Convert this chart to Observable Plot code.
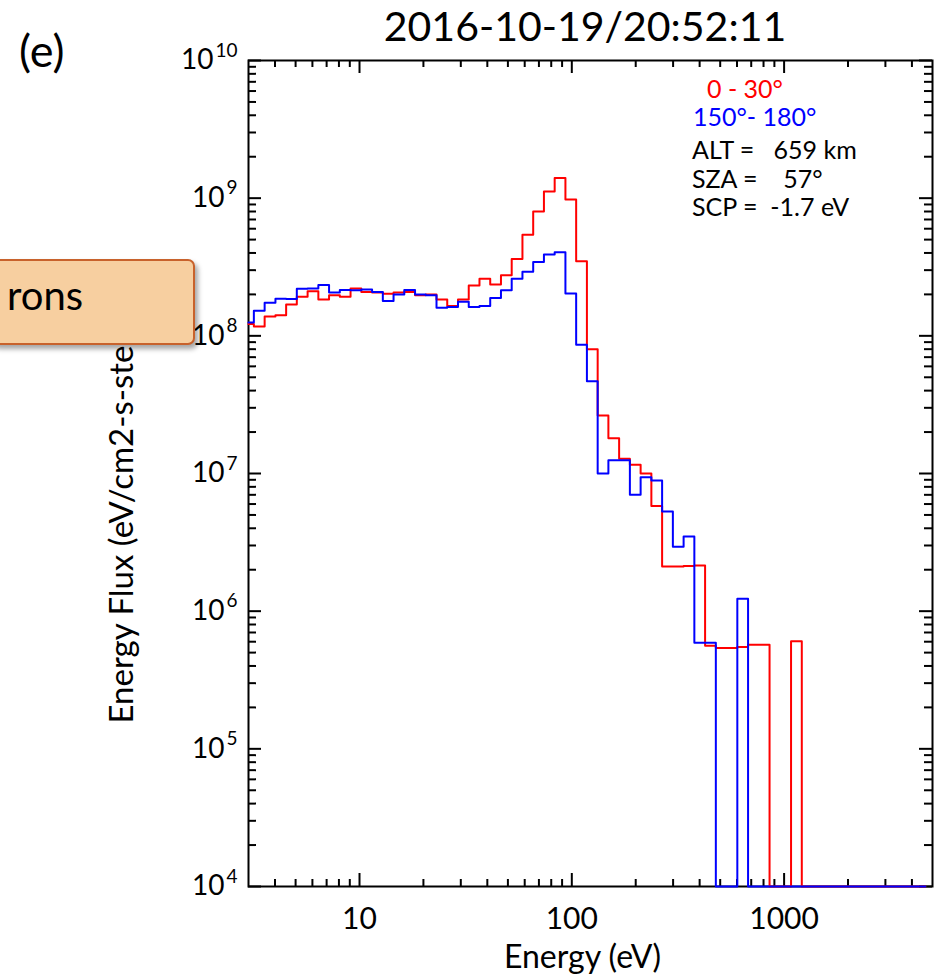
<!DOCTYPE html>
<html><head><meta charset="utf-8">
<script src="https://cdn.jsdelivr.net/npm/d3@7"></script>
<script src="https://cdn.jsdelivr.net/npm/@observablehq/plot@0.6"></script>
<style>
body{margin:0;background:#fff;}
#wrap{position:relative;width:941px;height:977px;overflow:hidden;font-family:Lato,"Open Sans",sans-serif;color:#000;}
.t{position:absolute;white-space:pre;line-height:1;}
#box{position:absolute;left:-10px;top:259px;width:201px;height:82px;background:#f7cfa0;border:2px solid #c8622c;border-radius:7px;box-shadow:3px 4px 5px rgba(0,0,0,0.35);z-index:5;}
#box span{position:absolute;left:15px;top:14px;font-size:40px;line-height:1;}
</style></head><body><div id="wrap"></div>
<script>
// Energy bin centres (eV)
const energyEV = [3.00,3.37,3.79,4.26,4.78,5.37,6.04,6.78,7.62,8.56,9.62,10.81,12.15,13.65,15.33,17.23,19.36,21.75,24.43,27.45,30.85,34.66,38.94,43.75,49.16,55.23,62.06,69.73,78.34,88.02,98.92,111.1,124.9,140.3,157.6,177.1,199.0,223.6,251.2,282.3,317.2,356.4,400.4,449.9,505.5,568.0,638.2,717.0,805.6,905.2,1017,1143,1284,1443,1621,1821,2046,2299,2583,2903,3262,3664,4117,4626];
// Pitch angle 0-30 deg (red)
const flux0to30 = [1.22e8,1.17e8,1.38e8,1.41e8,1.69e8,1.92e8,2.11e8,1.84e8,1.97e8,1.92e8,2.21e8,2.08e8,2.06e8,2.02e8,2.06e8,2.08e8,1.97e8,2.0e8,1.84e8,1.65e8,1.84e8,2.32e8,2.6e8,2.36e8,2.75e8,3.62e8,5.43e8,8.0e8,1.12e9,1.4e9,9.8e8,3.48e8,8.0e7,2.64e7,1.8e7,1.28e7,1.16e7,1.0e7,5.8e6,2.11e6,2.11e6,2.13e6,2.15e6,5.6e5,5.4e5,5.4e5,5.5e5,5.7e5,5.7e5,0,0,6.05e5,0,0,0,0,0,0,0,0,0,0,0,0];
// Pitch angle 150-180 deg (blue)
const flux150to180 = [1.25e8,1.52e8,1.74e8,1.86e8,1.85e8,2.2e8,2.21e8,2.34e8,2.06e8,2.15e8,2.14e8,2.17e8,2.08e8,1.79e8,2.0e8,2.15e8,2.0e8,1.97e8,1.6e8,1.62e8,1.77e8,1.62e8,1.65e8,1.88e8,2.14e8,2.6e8,2.92e8,3.44e8,3.89e8,4.04e8,2.03e8,8.6e7,4.68e7,1.0e7,1.25e7,1.25e7,7.0e6,9.4e6,8.9e6,5.3e6,2.94e6,3.48e6,5.9e5,5.9e5,0,0,1.23e6,0,0,0,0,0,0,0,0,0,0,0,0,0,0,0,0,0];

const xTickValues = [10, 100, 1000];
const yTickValues = [1e4, 1e5, 1e6, 1e7, 1e8, 1e9, 1e10];
const yTickExponents = ["4", "5", "6", "7", "8", "9", "10"];
const xMinorTicks = [4,5,6,7,8,9,20,30,40,50,60,70,80,90,200,300,400,500,600,700,800,900,2000,3000,4000];
const yMinorTicks = [];
for (const d of [1e4,1e5,1e6,1e7,1e8,1e9]) for (const m of [2,3,4,5,6,7,8,9]) yMinorTicks.push(d*m);

const titleText = "2016-10-19/20:52:11";
const panelLabel = "(e)";
const series = [
  {name: "0 - 30°", color: "#ff0000", values: flux0to30},
  {name: "150°- 180°", color: "#0000ff", values: flux150to180}
];
const infoLines = ["ALT =   659 km", "SZA =    57°", "SCP =  -1.7 eV"];
const yMin = 1e4;

const rows = [];
for (const s of series) energyEV.forEach((e, i) => rows.push({series: s.name, energy: e, flux: Math.max(s.values[i], yMin)}));

const W = 941, H = 977, mL = 248, mR = 9, mT = 60, mB = 91;
const fw = W - mL - mR, fh = H - mT - mB;

const chart = Plot.plot({
  width: W, height: H,
  marginLeft: mL, marginRight: mR, marginTop: mT, marginBottom: mB,
  style: {fontFamily: "Lato, 'Open Sans', sans-serif", background: "transparent", color: "#000"},
  x: {type: "log", domain: [3, 5000]},
  y: {type: "log", domain: [yMin, 1e10]},
  marks: [
    // ticks inward, all four sides
    Plot.tickX(xTickValues, {x: d => d, insetTop: fh - 13, stroke: "#000", strokeWidth: 2}),
    Plot.tickX(xTickValues, {x: d => d, insetBottom: fh - 13, stroke: "#000", strokeWidth: 2}),
    Plot.tickX(xMinorTicks, {x: d => d, insetTop: fh - 7, stroke: "#000", strokeWidth: 2}),
    Plot.tickX(xMinorTicks, {x: d => d, insetBottom: fh - 7, stroke: "#000", strokeWidth: 2}),
    Plot.tickY(yTickValues, {y: d => d, insetRight: fw - 13, stroke: "#000", strokeWidth: 2}),
    Plot.tickY(yTickValues, {y: d => d, insetLeft: fw - 13, stroke: "#000", strokeWidth: 2}),
    Plot.tickY(yMinorTicks, {y: d => d, insetRight: fw - 8, stroke: "#000", strokeWidth: 2}),
    Plot.tickY(yMinorTicks, {y: d => d, insetLeft: fw - 8, stroke: "#000", strokeWidth: 2}),
    Plot.frame({stroke: "#000", strokeWidth: 2}),
    Plot.line(rows.filter(d => d.series === series[0].name), {x: "energy", y: "flux", stroke: series[0].color, strokeWidth: 2, curve: "step"}),
    Plot.line(rows.filter(d => d.series === series[1].name), {x: "energy", y: "flux", stroke: series[1].color, strokeWidth: 2, curve: "step"}),
    Plot.axisX({ticks: xTickValues, tickSize: 0, tickPadding: 21, tickFormat: d => String(d), fontSize: 30, label: null}),
    Plot.axisY({ticks: yTickValues, tickSize: 0, tickPadding: 11, tickFormat: () => "10", fontSize: 28, label: null}),
    Plot.text(["Energy (eV)"], {frameAnchor: "bottom", dx: -8, dy: 59, lineAnchor: "top", fontSize: 32}),
    Plot.text(["Energy Flux (eV/cm2-s-ster)"], {frameAnchor: "bottom-left", dx: -116, dy: -163, rotate: -90, textAnchor: "start", fontSize: 33})
  ]
});

// superscript exponents on y tick labels (right-aligned; exponent after base "10")
const yLab = chart.querySelector('g[aria-label="y-axis tick label"]');
if (yLab) {
  yLab.querySelectorAll("text").forEach((t, i) => {
    const ts = document.createElementNS("http://www.w3.org/2000/svg", "tspan");
    ts.setAttribute("dy", "-0.68em");
    ts.setAttribute("dx", "2");
    ts.setAttribute("font-size", "19");
    ts.textContent = yTickExponents[i];
    t.appendChild(ts);
  });
}

const wrap = document.getElementById("wrap");
chart.style.position = "absolute";
chart.style.left = "0px";
chart.style.top = "0px";
wrap.appendChild(chart);

function addText(txt, css) {
  const d = document.createElement("div");
  d.className = "t";
  d.textContent = txt;
  Object.assign(d.style, css);
  wrap.appendChild(d);
  return d;
}
addText(titleText, {left: "585px", top: "5px", fontSize: "41px", transform: "translateX(-50%)"});
addText(panelLabel, {left: "19px", top: "28px", fontSize: "45px"});
addText(series[0].name, {left: "707px", top: "76px", fontSize: "25px", color: series[0].color});
addText(series[1].name, {left: "693px", top: "104px", fontSize: "25px", color: series[1].color});
[137, 166, 194].forEach((top, i) => addText(infoLines[i], {left: "692px", top: top + "px", fontSize: "25px"}));

const box = document.createElement("div");
box.id = "box";
const sp = document.createElement("span");
sp.textContent = "rons";
box.appendChild(sp);
wrap.appendChild(box);
</script>
</body></html>
